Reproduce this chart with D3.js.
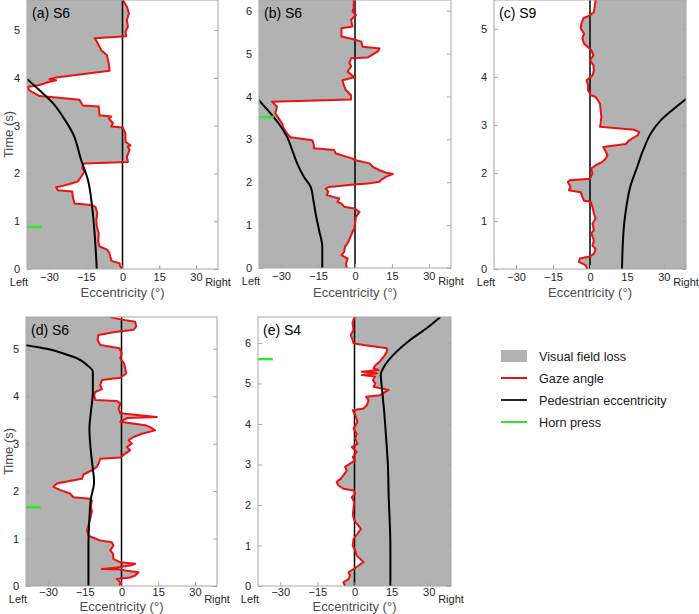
<!DOCTYPE html>
<html>
<head>
<meta charset="utf-8">
<script src="https://cdn.jsdelivr.net/npm/d3@7"></script>
<style>
body { margin: 0; background: #fff; }
svg { font-family: "Liberation Sans", Arial, sans-serif; }
</style>
</head>
<body>
<svg id="chart" width="699" height="614"></svg>
<script>
// values: [time (s), eccentricity (deg)]
const eccTicks = [-30, -15, 0, 15, 30];
const edgeLabels = ["Left", "Right"];
const legendItems = ["Visual field loss", "Gaze angle", "Pedestrian eccentricity", "Horn press"];

const gazeA = [[0,0.1],[0.06,-1],[0.12,-1.2],[0.17,-4.5],[0.26,-5],[0.33,-5.3],[0.41,-6.4],[0.47,-9.4],[0.57,-9.9],
  [0.75,-9.7],[0.89,-10.5],[1.03,-10.7],[1.16,-10.3],[1.3,-11],[1.34,-12.8],[1.37,-19.6],[1.51,-20.3],[1.62,-20.5],
  [1.65,-26.4],[1.71,-27.1],[1.74,-24.4],[1.78,-21.6],[1.83,-18.2],[1.93,-16.9],[2.04,-15.5],[2.11,-16.5],[2.21,-15.9],
  [2.24,2.2],[2.35,1.8],[2.49,2.9],[2.56,2.2],[2.59,3.3],[2.66,1.2],[2.84,1.2],[2.96,0.1],[2.98,-4.6],[3.05,-3.9],
  [3.15,-5.6],[3.19,-4.6],[3.22,-9.4],[3.4,-9.7],[3.42,-16.2],[3.54,-17.6],[3.59,-27.1],[3.62,-33.9],[3.74,-38],
  [3.81,-39],[3.85,-33.9],[3.92,-29.8],[3.95,-27.1],[3.97,-29.8],[4.01,-27.1],[4.15,-5.3],[4.3,-5.6],[4.48,-6.4],
  [4.58,-8.7],[4.65,-9.4],[4.76,-10.5],[4.83,-11.4],[4.87,1.5],[4.97,1.2],[5.07,2.2],[5.21,1.8],[5.35,2.6],[5.49,1.8],[5.63,0.1]];
const pedA = [[0,-10.5],[0.75,-11.4],[1.3,-12.4],[1.86,-14.1],[2.28,-16.9],[2.84,-20.3],[3.19,-24.4],[3.47,-28.4],[3.74,-33.9],[4.0,-39.5]];
const hornA = 0.88;

const gazeB = [[0,-3.3],[0.1,-3.7],[0.22,-3],[0.3,-5.5],[0.37,-4.4],[0.49,-4.1],[0.61,-2.7],[0.72,-1.9],[0.84,-1],
  [0.92,-0.3],[1.04,0],[1.19,0.4],[1.31,1.8],[1.39,-0.3],[1.43,-4.4],[1.5,-5.5],[1.54,-7.1],[1.62,-6.4],[1.7,-11.5],
  [1.78,-10.9],[1.85,-11.9],[1.89,-10.5],[1.95,-0.3],[1.97,5.2],[2.01,10],[2.06,10.7],[2.13,12.7],[2.19,15.4],
  [2.22,12.7],[2.28,10],[2.36,7.2],[2.44,5.9],[2.52,-0.3],[2.55,-1],[2.67,-7.8],[2.75,-8.5],[2.79,-16.7],[2.87,-16.7],
  [2.98,-17.3],[3.05,-26.2],[3.14,-27.6],[3.26,-29],[3.37,-29.6],[3.49,-31],[3.61,-32.4],[3.76,-31.7],[3.88,-33.7],
  [3.93,-1.6],[4.03,-1.6],[4.15,-3.7],[4.27,-4.6],[4.38,-5.1],[4.45,-0.3],[4.58,-3],[4.7,-1.6],[4.79,-2.3],[4.89,-1.6],
  [4.91,5.2],[5.05,9.3],[5.12,10],[5.16,3.1],[5.28,2.5],[5.33,-0.3],[5.4,-5.5],[5.59,-5.5],[5.63,-1],[5.79,-1.6],
  [5.9,0.4],[5.98,-1],[6.06,-0.5],[6.25,-0.5]];
const pedB = [[0,-13.3],[0.49,-13.3],[0.88,-14.6],[1.27,-16],[1.58,-16.9],[1.89,-18],[2.13,-20.8],[2.44,-23.5],
  [2.75,-25.5],[3.06,-27.6],[3.37,-31],[3.61,-34.4],[3.88,-38.5],[3.95,-39.5]];
const hornB = 3.52;

const gazeC = [[0,-1.1],[0.08,-1.8],[0.15,-4.5],[0.22,-4.1],[0.26,0],[0.32,1.6],[0.42,2.3],[0.49,1],[0.6,1.6],
  [0.74,0.5],[0.81,1.6],[0.94,1],[1.05,2.3],[1.15,1.6],[1.29,1],[1.4,0.3],[1.42,-2.4],[1.5,-3.1],[1.6,-3.8],[1.64,-8.6],
  [1.71,-7.9],[1.81,-9],[1.85,-8.2],[1.88,0],[1.99,1],[2.09,0.5],[2.16,2.3],[2.23,5],[2.3,6.4],[2.37,7.1],[2.44,6.4],
  [2.54,5.4],[2.6,14.5],[2.68,15.9],[2.78,19.3],[2.85,20],[2.9,17.9],[2.96,4.1],[3.03,4.3],[3.17,4.6],[3.31,4.3],
  [3.44,4.1],[3.58,2.3],[3.62,0.3],[3.72,-0.8],[3.83,-0.8],[3.93,-1.4],[4.03,1],[4.14,1.6],[4.24,1.4],[4.35,0],
  [4.45,1.4],[4.56,0.5],[4.63,-1.1],[4.69,-2.4],[4.8,-3.1],[4.9,-2.4],[5.01,-3.8],[5.11,-3.5],[5.22,-2.7],[5.28,0],
  [5.35,1.6],[5.46,1.9],[5.6,2.3]];
const pedC = [[0,13],[0.5,13.3],[1.0,14],[1.3,14.8],[1.7,16.3],[2.1,19],[2.5,21.8],[2.82,24.7],[3.1,28.8],[3.34,34.2],[3.56,39.5]];

const gazeD = [[0,-0.8],[0.08,-0.5],[0.15,-1.9],[0.18,3.5],[0.22,5.6],[0.29,6.9],[0.32,2.2],[0.35,-0.5],[0.36,-8],
  [0.39,-1.9],[0.43,3.5],[0.47,5.6],[0.5,-0.5],[0.57,-3.3],[0.68,-3.5],[0.75,-4.6],[0.85,-3.3],[0.92,-3.9],[0.96,-8.7],
  [1.06,-13.5],[1.17,-14.1],[1.28,-13.5],[1.42,-12.8],[1.56,-12.1],[1.7,-12.5],[1.8,-12.1],[1.84,-12.8],[1.87,-19.6],
  [1.95,-21],[2.02,-25],[2.09,-27.8],[2.16,-26.4],[2.23,-19.6],[2.26,-16.2],[2.35,-15.5],[2.44,-12.1],[2.51,-10.1],
  [2.58,-9.4],[2.68,-8.7],[2.71,-0.5],[2.79,1.5],[2.86,3.5],[2.93,2.2],[3.0,4.2],[3.07,2.9],[3.14,4.9],[3.21,8.3],
  [3.28,13.7],[3.35,11.7],[3.39,9.7],[3.46,-0.5],[3.54,2.2],[3.56,14.4],[3.64,-0.5],[3.74,-1.2],[3.85,-0.5],[3.9,-1.9],
  [3.92,-10.7],[4.02,-11.2],[4.09,-10.7],[4.15,-8],[4.24,-8.7],[4.34,-8],[4.39,-0.5],[4.48,1.9],[4.59,1.5],[4.69,1.1],
  [4.8,-0.5],[4.9,0.1],[5.01,-0.8],[5.08,-8.7],[5.19,-9.8],[5.29,-9.4],[5.35,-3.3],[5.4,4.9],[5.47,6],[5.57,5.6],
  [5.62,-0.5],[5.67,-4.6]];
const pedD = [[0,-13.5],[0.85,-13.5],[1.42,-13.1],[1.84,-12.5],[2.19,-11.2],[2.47,-11.7],[2.83,-12.5],[3.32,-13.1],
  [3.67,-12.5],[4.09,-11.7],[4.52,-11.7],[4.66,-14.1],[4.8,-18.2],[4.9,-23.7],[5.0,-30.5],[5.08,-39.5]];
const hornD = 1.66;

const gazeE = [[0,-3.8],[0.09,-4.5],[0.17,-2.4],[0.26,-1.8],[0.34,-2.4],[0.42,-0.4],[0.5,1.6],[0.59,3.6],[0.67,2.3],
  [0.75,0.9],[0.87,0.3],[1.0,-0.7],[1.16,-0.4],[1.29,1.2],[1.41,2.6],[1.49,1.6],[1.58,0.3],[1.74,-0.7],[1.91,-0.4],
  [2.07,-0.1],[2.19,-1.1],[2.28,0.3],[2.36,-0.4],[2.4,-4.5],[2.48,-6.5],[2.57,-7.2],[2.65,-5.5],[2.73,-4.5],[2.85,-3.1],
  [2.94,-3.8],[3.02,-1.8],[3.1,0.3],[3.18,-0.7],[3.31,0.9],[3.43,-1.1],[3.51,1.2],[3.64,0.3],[3.76,0.9],[3.89,-0.4],
  [4.05,1.2],[4.22,0.3],[4.34,-0.7],[4.38,3.6],[4.46,5],[4.59,5.7],[4.67,4.7],[4.71,10.4],[4.79,12.4],[4.84,13.8],
  [4.88,10.4],[4.92,7.7],[5.0,8.4],[5.08,7.4],[5.17,8.4],[5.21,3],[5.25,9.1],[5.29,3],[5.33,9.7],[5.37,7.7],[5.45,8.4],
  [5.55,10.4],[5.66,11.8],[5.78,13.1],[5.87,13.1],[5.95,3.6],[5.99,-0.4],[6.07,-0.7],[6.2,-1.5],[6.32,-0.4],[6.49,-0.8],[6.64,-0.1]];
const pedE = [[0,14.5],[1.0,14.5],[2.24,13.8],[2.98,13.5],[3.64,12.8],[4.3,12],[4.88,11.1],[5.22,10.6],[5.4,11.8],
  [5.71,15.8],[6.08,22.6],[6.37,29.3],[6.64,34.7]];
const hornE = 5.6;

const colors = { loss: "#b2b2b2", gaze: "#ee1111", ped: "#000", horn: "#2ee82e", frame: "#a6a6a6", tick: "#262626" };

const panels = [
  { label: "(a) S6", side: "left",  gaze: gazeA, ped: pedA, horn: hornA, tMax: 5.63, tTicks: d3.range(0, 6), x: 27,  y: 0,   w: 191, h: 269, yTitle: true,  pad: 4, titleDy: 28 },
  { label: "(b) S6", side: "left",  gaze: gazeB, ped: pedB, horn: hornB, tMax: 6.25, tTicks: d3.range(0, 7), x: 259, y: 0,   w: 192, h: 268, yTitle: false, pad: 4, titleDy: 29 },
  { label: "(c) S9", side: "right", gaze: gazeC, ped: pedC, horn: null,  tMax: 5.6,  tTicks: d3.range(0, 6), x: 494, y: 0,   w: 192, h: 269, yTitle: false, pad: 4, titleDy: 28 },
  { label: "(d) S6", side: "left",  gaze: gazeD, ped: pedD, horn: hornD, tMax: 5.67, tTicks: d3.range(0, 6), x: 26,  y: 317, w: 191, h: 269, yTitle: true,  pad: 2, titleDy: 24.5 },
  { label: "(e) S4", side: "right", gaze: gazeE, ped: pedE, horn: hornE, tMax: 6.64, tTicks: d3.range(0, 7), x: 258, y: 317, w: 193, h: 269, yTitle: false, pad: 2, titleDy: 24.5 }
];

const svg = d3.select("#chart");
const defs = svg.append("defs");
const eccDomain = [-39, 39];

panels.forEach((p, i) => {
  const g = svg.append("g").attr("transform", `translate(${p.x},${p.y})`);
  const x = d3.scaleLinear().domain(eccDomain).range([0, p.w]);
  const y = d3.scaleLinear().domain([0, p.tMax]).range([p.h, 0]);

  defs.append("clipPath").attr("id", "clip" + i)
    .append("rect").attr("width", p.w).attr("height", p.h);
  const plot = g.append("g").attr("clip-path", `url(#clip${i})`);

  // visual field loss: from the blind side edge to the gaze angle
  const area = d3.area()
    .y(d => y(d[0]))
    .x0(d => p.side === "left" ? x(eccDomain[0]) : x(d[1]))
    .x1(d => p.side === "left" ? x(d[1]) : x(eccDomain[1]));
  plot.append("path").datum(p.gaze).attr("d", area).attr("fill", colors.loss);

  plot.append("line")
    .attr("x1", x(0)).attr("x2", x(0)).attr("y1", 0).attr("y2", p.h)
    .attr("stroke", "#000").attr("stroke-width", 1.5);

  const line = d3.line().x(d => x(d[1])).y(d => y(d[0]));
  plot.append("path").datum(p.gaze).attr("d", line)
    .attr("fill", "none").attr("stroke", colors.gaze).attr("stroke-width", 2).attr("stroke-linejoin", "round");
  plot.append("path").datum(p.ped).attr("d", line.curve(d3.curveMonotoneY))
    .attr("fill", "none").attr("stroke", colors.ped).attr("stroke-width", 2);

  if (p.horn != null) {
    plot.append("line")
      .attr("x1", x(eccDomain[0])).attr("x2", x(-33))
      .attr("y1", y(p.horn)).attr("y2", y(p.horn))
      .attr("stroke", colors.horn).attr("stroke-width", 2.5);
  }

  // frame and inward ticks
  g.append("rect").attr("width", p.w).attr("height", p.h)
    .attr("fill", "none").attr("stroke", colors.frame);

  const yAxis = g.append("g").call(d3.axisLeft(y).tickValues(p.tTicks).tickSize(-4).tickPadding(7).tickFormat(d3.format("d")));
  const yAxisR = g.append("g").attr("transform", `translate(${p.w},0)`)
    .call(d3.axisRight(y).tickValues(p.tTicks).tickSize(-4).tickFormat(""));
  const xAxis = g.append("g").attr("transform", `translate(0,${p.h})`)
    .call(d3.axisBottom(x).tickValues(eccTicks).tickSize(-4).tickPadding(p.pad).tickFormat(d3.format("d")));

  [yAxis, yAxisR, xAxis].forEach(a => {
    a.select(".domain").remove();
    a.selectAll(".tick line").attr("stroke", colors.frame);
    a.selectAll("text").attr("fill", colors.tick).style("font-size", "11px").style("font-family", "Liberation Sans, Arial, sans-serif");
  });

  g.append("text").attr("x", -8).attr("y", p.h + 16.5).attr("text-anchor", "middle")
    .attr("fill", colors.tick).style("font-size", "11px").text(edgeLabels[0]);
  g.append("text").attr("x", p.w).attr("y", p.h + 16.5).attr("text-anchor", "middle")
    .attr("fill", colors.tick).style("font-size", "11px").text(edgeLabels[1]);

  g.append("text").attr("x", p.w / 2).attr("y", p.h + p.titleDy).attr("text-anchor", "middle")
    .attr("fill", "#4d4d4d").style("font-size", "13px").text("Eccentricity (°)");

  if (p.yTitle) {
    g.append("text").attr("transform", `translate(${-p.x + 13},${p.h / 2}) rotate(-90)`)
      .attr("text-anchor", "middle").attr("fill", "#4d4d4d").style("font-size", "13px").text("Time (s)");
  }

  g.append("text").attr("x", 5).attr("y", 18).attr("fill", "#000").style("font-size", "14px").text(p.label);
});

// legend
const legend = svg.append("g").attr("transform", "translate(501,356)");
legendItems.forEach((name, i) => {
  const row = legend.append("g").attr("transform", `translate(0,${i * 22})`);
  if (i === 0) {
    row.append("rect").attr("x", 0).attr("y", -6).attr("width", 26).attr("height", 12).attr("fill", colors.loss);
  } else {
    row.append("line").attr("x1", 0).attr("x2", 26)
      .attr("stroke", [null, colors.gaze, "#222", colors.horn][i]).attr("stroke-width", 2);
  }
  row.append("text").attr("x", 38).attr("y", 5).attr("fill", "#1a1a1a").style("font-size", "12.7px").text(name);
});
</script>
</body>
</html>
